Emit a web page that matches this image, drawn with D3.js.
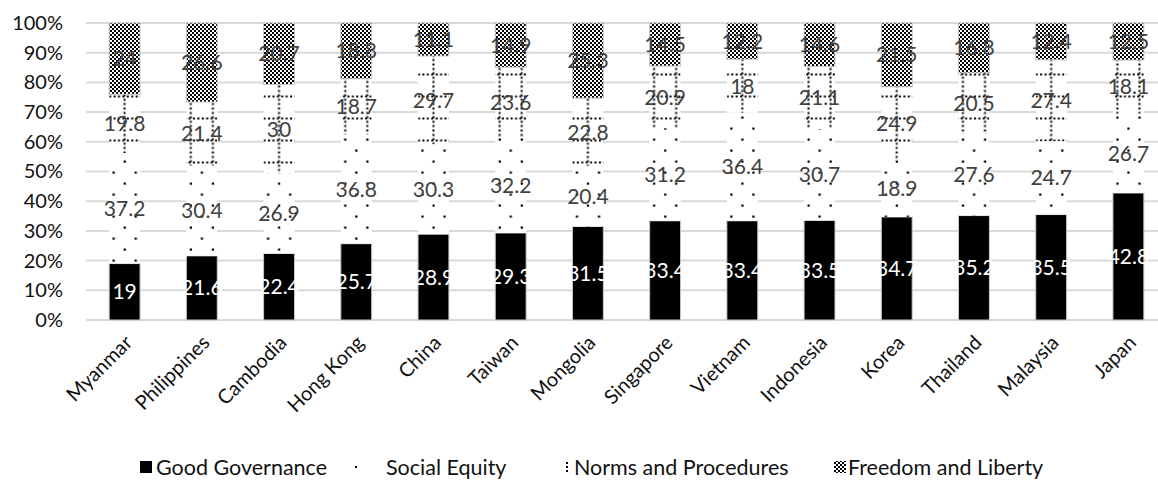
<!DOCTYPE html>
<html>
<head>
<meta charset="utf-8">
<script src="https://cdn.jsdelivr.net/npm/d3@7"></script>
<style>
  body { margin: 0; background: #fff; }
  text { font-family: Lato, "Open Sans", sans-serif; }
</style>
</head>
<body>
<div id="chart"></div>
<script>
// data (shares per country, stacked to 100%)
const countries = ["Myanmar", "Philippines", "Cambodia", "Hong Kong", "China", "Taiwan", "Mongolia",
  "Singapore", "Vietnam", "Indonesia", "Korea", "Thailand", "Malaysia", "Japan"];
const goodGovernance = [19, 21.6, 22.4, 25.7, 28.9, 29.3, 31.5, 33.4, 33.4, 33.5, 34.7, 35.2, 35.5, 42.8];
const socialEquity = [37.2, 30.4, 26.9, 36.8, 30.3, 32.2, 20.4, 31.2, 36.4, 30.7, 18.9, 27.6, 24.7, 26.7];
const normsProcedures = [19.8, 21.4, 30, 18.7, 29.7, 23.6, 22.8, 20.9, 18, 21.1, 24.9, 20.5, 27.4, 18.1];
const freedomLiberty = [24, 26.6, 20.7, 18.8, 11.1, 14.9, 25.3, 14.5, 12.2, 14.6, 21.5, 16.8, 12.4, 12.5];
const seriesNames = ["Good Governance", "Social Equity", "Norms and Procedures", "Freedom and Liberty"];
const yTicks = [0, 0.1, 0.2, 0.3, 0.4, 0.5, 0.6, 0.7, 0.8, 0.9, 1];

const width = 1158, height = 482;
const plot = { left: 86, right: 1167, top: 23, bottom: 320 };

const table = countries.map((c, i) => ({
  country: c,
  "Good Governance": goodGovernance[i],
  "Social Equity": socialEquity[i],
  "Norms and Procedures": normsProcedures[i],
  "Freedom and Liberty": freedomLiberty[i]
}));

const svg = d3.select("#chart").append("svg")
  .attr("width", width)
  .attr("height", height);

const x = d3.scaleBand()
  .domain(countries)
  .range([plot.left, plot.right])
  .paddingInner(0.6)
  .paddingOuter(0.3);

const y = d3.scaleLinear()
  .domain([0, 1])
  .range([plot.bottom, plot.top]);

// fill patterns, anchored to the first bar's centre so every bar lines up like the original
const cx0 = x(countries[0]) + x.bandwidth() / 2;
const tile = x.step() / 3.5;
const defs = svg.append("defs");

const pSocial = defs.append("pattern")
  .attr("id", "pSocial")
  .attr("patternUnits", "userSpaceOnUse")
  .attr("x", cx0 - tile / 4).attr("y", 2)
  .attr("width", tile).attr("height", 22);
pSocial.append("rect").attr("width", tile).attr("height", 22).attr("fill", "#fff");
pSocial.append("rect").attr("x", tile / 4 - 1).attr("y", 4.5).attr("width", 2.2).attr("height", 2.2).attr("fill", "#000");
pSocial.append("rect").attr("x", tile * 3 / 4 - 1).attr("y", 15.5).attr("width", 2.2).attr("height", 2.2).attr("fill", "#000");

const pNorms = defs.append("pattern")
  .attr("id", "pNorms")
  .attr("patternUnits", "userSpaceOnUse")
  .attr("x", cx0 - tile / 2).attr("y", -2.5)
  .attr("width", tile).attr("height", 22);
pNorms.append("rect").attr("width", tile).attr("height", 22).attr("fill", "#fff");
pNorms.append("line")
  .attr("x1", 0).attr("x2", tile).attr("y1", 11).attr("y2", 11)
  .attr("stroke", "#000").attr("stroke-width", 2)
  .attr("stroke-dasharray", `2 ${tile / 5 - 2}`);
pNorms.append("line")
  .attr("x1", tile / 2).attr("x2", tile / 2).attr("y1", 0).attr("y2", 22)
  .attr("stroke", "#000").attr("stroke-width", 2)
  .attr("stroke-dasharray", `2 ${22 / 5 - 2}`);

const pFreedom = defs.append("pattern")
  .attr("id", "pFreedom")
  .attr("patternUnits", "userSpaceOnUse")
  .attr("width", 4).attr("height", 4);
pFreedom.append("rect").attr("width", 4).attr("height", 4).attr("fill", "#fff");
pFreedom.append("rect").attr("width", 2).attr("height", 2).attr("fill", "#000");
pFreedom.append("rect").attr("x", 2).attr("y", 2).attr("width", 2).attr("height", 2).attr("fill", "#000");

const fills = {
  "Good Governance": "#000",
  "Social Equity": "url(#pSocial)",
  "Norms and Procedures": "url(#pNorms)",
  "Freedom and Liberty": "url(#pFreedom)"
};
const strokes = {
  "Good Governance": "#c8c8c8",
  "Social Equity": "none",
  "Norms and Procedures": "none",
  "Freedom and Liberty": "#c8c8c8"
};

// gridlines
svg.append("g")
  .selectAll("line")
  .data(yTicks)
  .join("line")
  .attr("x1", plot.left).attr("x2", width)
  .attr("y1", d => y(d)).attr("y2", d => y(d))
  .attr("stroke", "#d9d9d9")
  .attr("stroke-width", 2);

// y axis labels
const yAxis = d3.axisLeft(y).tickValues(yTicks).tickFormat(d3.format(".0%")).tickSize(0).tickPadding(23);
svg.append("g")
  .attr("transform", `translate(${plot.left},0)`)
  .call(yAxis)
  .call(g => g.select(".domain").remove())
  .call(g => g.selectAll("text")
    .style("font-family", "Lato, 'Open Sans', sans-serif")
    .style("font-size", "20px")
    .attr("fill", "#111"));

// stacked bars
const stacked = d3.stack()
  .keys(seriesNames)
  .offset(d3.stackOffsetExpand)(table);

const layers = svg.append("g")
  .selectAll("g")
  .data(stacked)
  .join("g")
  .attr("fill", d => fills[d.key])
  .attr("stroke", d => strokes[d.key]);

layers.selectAll("rect")
  .data(d => d)
  .join("rect")
  .attr("x", d => x(d.data.country))
  .attr("y", d => y(d[1]))
  .attr("width", x.bandwidth())
  .attr("height", d => y(d[0]) - y(d[1]))
  .attr("stroke-width", 1);

// data labels
const labels = svg.append("g");
stacked.forEach(layer => {
  labels.selectAll(null)
    .data(layer)
    .join("text")
    .attr("x", d => x(d.data.country) + x.bandwidth() / 2)
    .attr("y", d => y((d[0] + d[1]) / 2))
    .attr("dy", "0.36em")
    .attr("text-anchor", "middle")
    .style("font-size", "21px")
    .attr("fill", layer.key === "Good Governance" ? "#fff" : "#404040")
    .text(d => d.data[layer.key]);
});

// x axis labels, rotated
svg.append("g")
  .selectAll("text")
  .data(countries)
  .join("text")
  .attr("transform", d => `translate(${x(d) + x.bandwidth() / 2 + 4},339) rotate(-45)`)
  .attr("text-anchor", "end")
  .attr("dy", "0.35em")
  .style("font-size", "20px")
  .attr("fill", "#111")
  .text(d => d);

// legend
const legendY = 467;
const legend = svg.append("g").style("font-size", "21.5px");
const legendText = [156, 386, 574, 848];
seriesNames.forEach((name, i) => {
  legend.append("text")
    .attr("x", legendText[i]).attr("y", legendY)
    .attr("dy", "0.35em")
    .attr("fill", "#111")
    .text(name);
});
// swatches
legend.append("rect").attr("x", 140).attr("y", legendY - 6).attr("width", 12).attr("height", 12).attr("fill", "#000");
legend.append("rect").attr("x", 355).attr("y", legendY - 1).attr("width", 2).attr("height", 2).attr("fill", "#000");
[-5, -1, 3].forEach(dy => legend.append("rect")
  .attr("x", 566).attr("y", legendY + dy).attr("width", 2).attr("height", 2).attr("fill", "#000"));
legend.append("rect").attr("x", 834).attr("y", legendY - 6).attr("width", 12).attr("height", 12)
  .attr("fill", "url(#pFreedom)");
</script>
</body>
</html>
